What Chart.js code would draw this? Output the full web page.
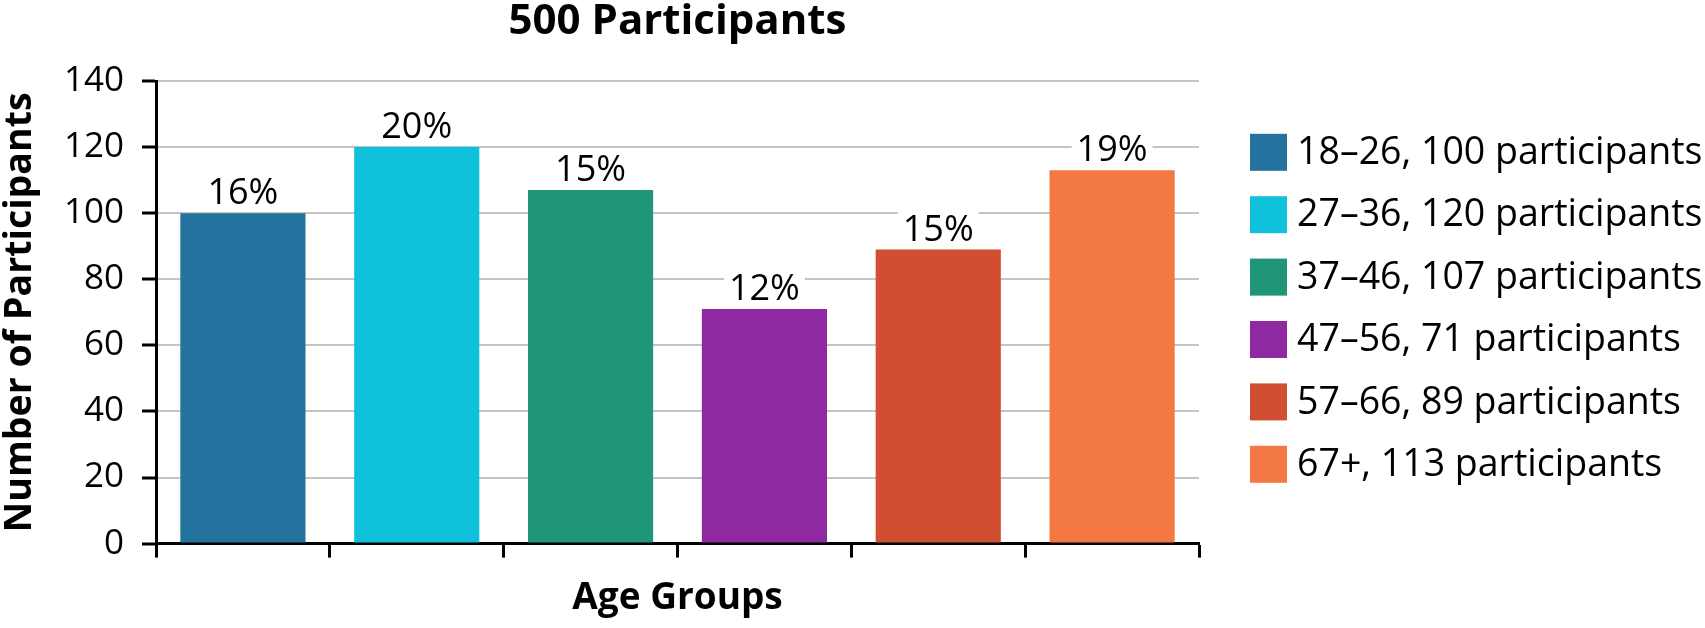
<!DOCTYPE html>
<html>
<head>
<meta charset="utf-8">
<title>500 Participants</title>
<script src="https://cdn.jsdelivr.net/npm/chart.js@4.4.1/dist/chart.umd.min.js"></script>
<style>
  html, body { margin: 0; padding: 0; background: #fff; }
  #wrap { width: 1705px; height: 628px; }
</style>
</head>
<body>
<div id="wrap"><canvas id="ageChart" width="1705" height="628"></canvas></div>
<script>
const categories = ['18–26', '27–36', '37–46', '47–56', '57–66', '67+'];
const participants = [100, 120, 107, 71, 89, 113];
const percentLabels = ['16%', '20%', '15%', '12%', '15%', '19%'];
const yMin = 0;
const yMax = 140;
const yStep = 20;

const barColors = ['#24729e', '#10c1dc', '#1f9677', '#8e29a2', '#d24e33', '#f37843'];
const FONT = '"Open Sans", "Noto Sans", sans-serif';

// percentage labels above each bar, on a white patch so the grid line breaks
const barLabels = {
  id: 'barLabels',
  afterDatasetsDraw(chart) {
    const ctx = chart.ctx;
    const meta = chart.getDatasetMeta(0);
    ctx.save();
    ctx.font = '36px ' + FONT;
    ctx.textAlign = 'center';
    ctx.textBaseline = 'alphabetic';
    meta.data.forEach((bar, i) => {
      const text = percentLabels[i];
      const w = ctx.measureText(text).width;
      const base = bar.y - 9;
      ctx.fillStyle = '#fff';
      ctx.fillRect(bar.x - w / 2 - 5, base - 29, w + 10, 33);
      ctx.fillStyle = '#000';
      ctx.fillText(text, bar.x, base);
    });
    ctx.restore();
  }
};

// legend on the right: square swatch + text
const sideLegend = {
  id: 'sideLegend',
  afterDraw(chart) {
    const ctx = chart.ctx;
    const area = chart.chartArea;
    const box = 37;
    const rowGap = 62.4;
    const x = area.right + 51;
    const mid = (area.top + area.bottom) / 2 - 4;
    const first = mid - rowGap * (categories.length - 1) / 2;
    ctx.save();
    ctx.font = '37.5px ' + FONT;
    ctx.textAlign = 'left';
    ctx.textBaseline = 'middle';
    categories.forEach((cat, i) => {
      const cy = first + i * rowGap;
      ctx.fillStyle = barColors[i];
      ctx.fillRect(x, cy - box / 2, box, box);
      ctx.fillStyle = '#000';
      ctx.fillText(`${cat}, ${participants[i]} participants`, x + box + 10, cy + 1);
    });
    ctx.restore();
  }
};

function draw() {
  const ctx = document.getElementById('ageChart').getContext('2d');
  new Chart(ctx, {
    type: 'bar',
    data: {
      labels: categories,
      datasets: [{
        data: participants,
        backgroundColor: barColors,
        borderWidth: 0,
        barPercentage: 0.72,
        categoryPercentage: 1
      }]
    },
    options: {
      responsive: false,
      animation: false,
      layout: { padding: { left: 0, right: 506, top: 0, bottom: 0 } },
      plugins: {
        legend: { display: false },
        tooltip: { enabled: false },
        title: {
          display: true,
          text: '500 Participants',
          color: '#000',
          fullSize: false,
          font: { family: FONT, size: 42, weight: 'bold', lineHeight: 1.0 },
          padding: { top: 1, bottom: 38 }
        }
      },
      scales: {
        x: {
          type: 'category',
          grid: {
            display: true,
            offset: true,
            drawOnChartArea: false,
            drawTicks: true,
            tickLength: 14,
            tickWidth: 3,
            tickColor: '#000'
          },
          border: { display: true, color: '#000', width: 3 },
          ticks: { display: false },
          title: {
            display: true,
            text: 'Age Groups',
            color: '#000',
            font: { family: FONT, size: 37, weight: 'bold', lineHeight: 1.2 },
            padding: { top: 19, bottom: 7 }
          }
        },
        y: {
          min: yMin,
          max: yMax,
          afterFit(scale) { scale.width = 156; },
          ticks: {
            stepSize: yStep,
            color: '#000',
            padding: 18,
            font: { family: FONT, size: 35 }
          },
          grid: {
            color: '#c4c4c4',
            lineWidth: 2,
            drawTicks: true,
            tickLength: 14,
            tickWidth: 3,
            tickColor: '#000'
          },
          border: { display: true, color: '#000', width: 3 },
          title: {
            display: true,
            text: 'Number of Participants',
            color: '#000',
            font: { family: FONT, size: 37.5, weight: 'bold', lineHeight: 1.1 },
            padding: { top: 0, bottom: 0 }
          }
        }
      }
    },
    plugins: [barLabels, sideLegend]
  });
}

document.fonts.load('36px "Open Sans"').then(draw, draw);
</script>
</body>
</html>
